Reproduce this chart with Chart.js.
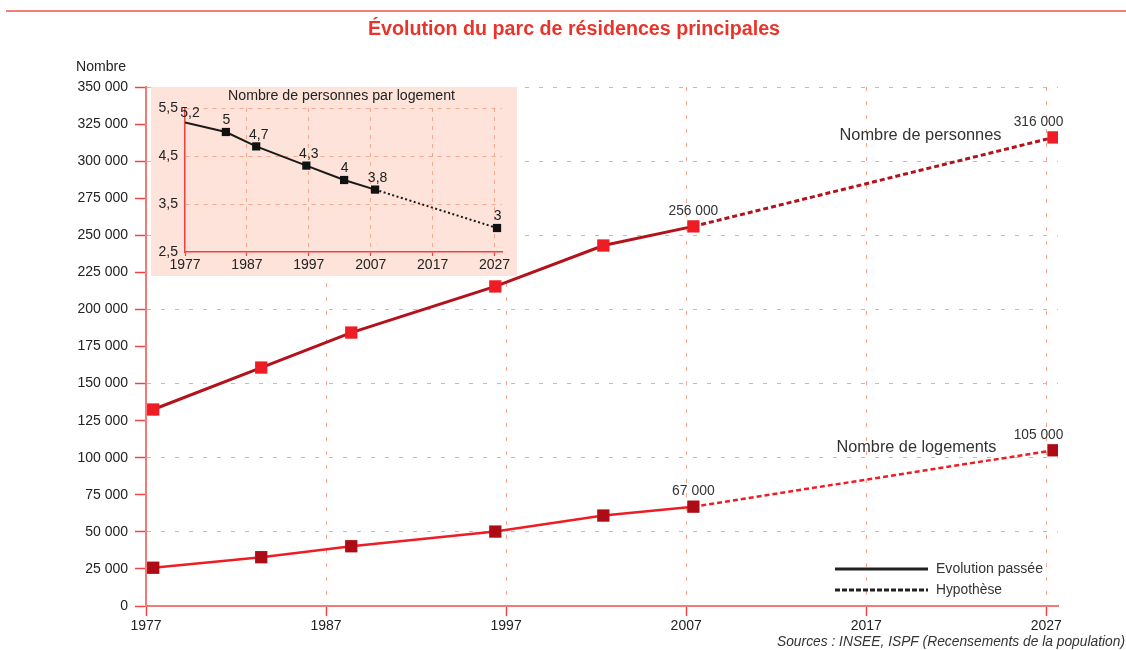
<!DOCTYPE html>
<html><head><meta charset="utf-8">
<script src="https://cdn.jsdelivr.net/npm/chart.js@4/dist/chart.umd.min.js"></script>
<style>
html,body{margin:0;padding:0;background:#fff;}
#wrap{position:relative;width:1126px;height:650px;overflow:hidden;}
#main{position:absolute;left:0;top:0;}
#inset{position:absolute;left:151px;top:87px;}
</style></head><body>
<div id="wrap"><canvas id="main" width="1126" height="650"></canvas><canvas id="inset" width="366" height="189"></canvas></div>
<script>
// ---- data ----
const years = [1977.4, 1983.4, 1988.4, 1996.4, 2002.4, 2007.4, 2027.4];
const personnes = [132500, 160800, 184400, 215500, 243100, 256000, 316000];
const logements = [25800, 32900, 40300, 50200, 61000, 67000, 105000];
const xTicks = [1977, 1987, 1997, 2007, 2017, 2027];
const yTicks = [0, 25000, 50000, 75000, 100000, 125000, 150000, 175000, 200000, 225000, 250000, 275000, 300000, 325000, 350000];
const personnesLabels = {5: '256 000', 6: '316 000'};
const logementsLabels = {5: '67 000', 6: '105 000'};

const insetYears = [1977, 1983.6, 1988.5, 1996.6, 2002.7, 2007.7, 2027.4];
const parLogement = [5.2, 5.0, 4.7, 4.3, 4.0, 3.8, 3.0];
const parLogementLabels = ['5,2', '5', '4,7', '4,3', '4', '3,8', '3'];
const insetYTicks = [2.5, 3.5, 4.5, 5.5];
const lastPast = 5; // index of last observed point (2007)

const FONT = '"Liberation Sans", Arial, Helvetica, sans-serif';
Chart.defaults.font.family = FONT;

function fitText(ctx, text, x, y, width, font, color, align) {
  ctx.save();
  ctx.font = font; ctx.fillStyle = color; ctx.textBaseline = 'middle'; ctx.textAlign = 'left';
  const w = ctx.measureText(text).width;
  const s = width / w;
  const left = align === 'center' ? x - width / 2 : (align === 'right' ? x - width : x);
  ctx.translate(left, y); ctx.scale(s, 1);
  ctx.fillText(text, 0, 0);
  ctx.restore();
}
const fmt = v => String(v).replace(/\B(?=(\d{3})+(?!\d))/g, ' ');
const dashFuture = (c) => c.p1DataIndex > lastPast ? [5, 3] : undefined;

const mainDecor = {
  id: 'mainDecor',
  afterDraw(chart) {
    const ctx = chart.ctx;
    // top rule
    ctx.save();
    ctx.strokeStyle = '#f27f7a'; ctx.lineWidth = 2;
    ctx.beginPath(); ctx.moveTo(6, 11); ctx.lineTo(1126, 11); ctx.stroke();
    ctx.restore();
    fitText(ctx, 'Évolution du parc de résidences principales', 368, 29, 412, 'bold 20px ' + FONT, '#e8352b', 'left');
    fitText(ctx, 'Nombre', 76, 67, 50, '14px ' + FONT, '#222', 'left');
    // data labels
    const mp = chart.getDatasetMeta(0).data, ml = chart.getDatasetMeta(1).data;
    const dl = (pts, labels) => {
      Object.keys(labels).forEach(k => {
        const p = pts[k]; const dx = (+k === years.length - 1) ? -15 : 0;
        fitText(ctx, labels[k], p.x + dx, p.y - 15.5, labels[k].length * 7.1, '14px ' + FONT, '#333', 'center');
      });
    };
    dl(mp, personnesLabels); dl(ml, logementsLabels);
    // series names
    const lp = mp[mp.length - 1], ll = ml[ml.length - 1];
    fitText(ctx, 'Nombre de personnes', lp.x - 52, lp.y - 2, 162, '16px ' + FONT, '#333', 'right');
    fitText(ctx, 'Nombre de logements', ll.x - 57, ll.y - 3, 160, '16px ' + FONT, '#333', 'right');
    // legend
    ctx.save();
    ctx.strokeStyle = '#222'; ctx.lineWidth = 3;
    ctx.beginPath(); ctx.moveTo(835, 569); ctx.lineTo(928, 569); ctx.stroke();
    ctx.setLineDash([5, 2]);
    ctx.beginPath(); ctx.moveTo(835, 590); ctx.lineTo(928, 590); ctx.stroke();
    ctx.restore();
    fitText(ctx, 'Evolution passée', 936, 569, 107, '14px ' + FONT, '#333', 'left');
    fitText(ctx, 'Hypothèse', 936, 590, 66, '14px ' + FONT, '#333', 'left');
    fitText(ctx, 'Sources : INSEE, ISPF (Recensements de la population)', 777, 642, 348, 'italic 14px ' + FONT, '#333', 'left');
  }
};

new Chart(document.getElementById('main'), {
  type: 'line',
  data: {
    datasets: [
      {
        label: 'Nombre de personnes',
        data: years.map((x, i) => ({x, y: personnes[i]})),
        borderColor: '#b3121b', borderWidth: 3,
        pointStyle: 'rect', pointRadius: 8.7, pointBackgroundColor: '#ee1d25', pointBorderWidth: 0,
        tension: 0, segment: {borderDash: dashFuture}
      },
      {
        label: 'Nombre de logements',
        data: years.map((x, i) => ({x, y: logements[i]})),
        borderColor: '#ee1d25', borderWidth: 2.5,
        pointStyle: 'rect', pointRadius: 8.7, pointBackgroundColor: '#ad0c16', pointBorderWidth: 0,
        tension: 0, segment: {borderDash: dashFuture}
      }
    ]
  },
  options: {
    responsive: false, animation: false, devicePixelRatio: 1,
    layout: {padding: {top: 87, right: 68, bottom: 0, left: 0}},
    plugins: {legend: {display: false}, tooltip: {enabled: false}, title: {display: false}},
    scales: {
      x: {
        type: 'linear', min: 1977, max: 2027.65,
        afterBuildTicks: s => { s.ticks = xTicks.map(v => ({value: v})); },
        afterFit: s => { s.height = 44; },
        ticks: {color: '#222', font: {size: 14}, padding: 2, maxRotation: 0, autoSkip: false, callback: v => String(v)},
        grid: {
          color: c => (c.tick && c.tick.value === 1977) ? 'rgba(0,0,0,0)' : '#f8a88d',
          lineWidth: 1, tickColor: '#ef4444', tickLength: 10, tickWidth: 1.5, tickBorderDash: []
        },
        border: {color: '#f37878', width: 2, dash: [4, 10]}
      },
      y: {
        min: 0, max: 350000,
        afterBuildTicks: s => { s.ticks = yTicks.map(v => ({value: v})); },
        afterFit: s => { s.width = 146; },
        ticks: {color: '#222', font: {size: 14}, padding: 7, callback: v => fmt(v)},
        grid: {
          color: c => (c.tick && c.tick.value > 0 && c.tick.value % 50000 === 0) ? '#f8a88d' : 'rgba(0,0,0,0)',
          lineWidth: 1, tickColor: '#ef4444', tickLength: 11, tickWidth: 1.5, tickBorderDash: []
        },
        border: {color: '#f37878', width: 2, dash: [4, 10]}
      }
    }
  },
  plugins: [mainDecor]
});

// ---- inset ----
const insetDecor = {
  id: 'insetDecor',
  beforeDraw(chart) {
    const ctx = chart.ctx;
    ctx.save(); ctx.fillStyle = '#fde3d9'; ctx.fillRect(0, 0, chart.width, chart.height); ctx.restore();
  },
  afterDraw(chart) {
    const ctx = chart.ctx;
    fitText(ctx, 'Nombre de personnes par logement', 77, 9, 227, '14px ' + FONT, '#222', 'left');
    const pts = chart.getDatasetMeta(0).data;
    pts.forEach((p, i) => {
      const lbl = parLogementLabels[i];
      const dx = i === 0 ? 5 : (lbl.length > 1 ? 2.5 : 0.5);
      const dy = i === 0 ? -9 : -11.5;
      ctx.save(); ctx.font = '14px ' + FONT; ctx.fillStyle = '#222'; ctx.textAlign = 'center'; ctx.textBaseline = 'middle';
      ctx.fillText(lbl, p.x + dx, p.y + dy); ctx.restore();
    });
  }
};

new Chart(document.getElementById('inset'), {
  type: 'line',
  data: {
    datasets: [{
      label: 'Nombre de personnes par logement',
      data: insetYears.map((x, i) => ({x, y: parLogement[i]})),
      borderColor: '#1a1a1a', borderWidth: 2,
      pointStyle: 'rect', pointRadius: c => c.dataIndex === 0 ? 0 : 5.8,
      pointBackgroundColor: '#111', pointBorderWidth: 0,
      tension: 0, segment: {borderDash: c => c.p1DataIndex > lastPast ? [2, 2.5] : undefined}
    }]
  },
  options: {
    responsive: false, animation: false, devicePixelRatio: 1,
    layout: {padding: {top: 21, right: 15, bottom: 0, left: 0}},
    plugins: {legend: {display: false}, tooltip: {enabled: false}},
    scales: {
      x: {
        type: 'linear', min: 1977, max: 2028.2,
        afterBuildTicks: s => { s.ticks = xTicks.map(v => ({value: v})); },
        afterFit: s => { s.height = 24; },
        ticks: {color: '#222', font: {size: 14}, padding: 1, maxRotation: 0, autoSkip: false, callback: v => String(v)},
        grid: {
          color: c => (c.tick && c.tick.value === 1977) ? 'rgba(0,0,0,0)' : '#f8a88d',
          lineWidth: 1, tickColor: '#ef4444', tickLength: 4, tickWidth: 1.2, tickBorderDash: []
        },
        border: {color: '#f04040', width: 1.5, dash: [4, 5]}
      },
      y: {
        min: 2.5, max: 5.5,
        afterBuildTicks: s => { s.ticks = insetYTicks.map(v => ({value: v})); },
        afterFit: s => { s.width = 34; },
        ticks: {color: '#222', font: {size: 14}, padding: 7, callback: v => String(v).replace('.', ',')},
        grid: {
          color: c => (c.tick && c.tick.value > 2.5) ? '#f8a88d' : 'rgba(0,0,0,0)',
          lineWidth: 1, drawTicks: false
        },
        border: {color: '#f04040', width: 1.5, dash: [4, 5]}
      }
    }
  },
  plugins: [insetDecor]
});
</script>
</body></html>
